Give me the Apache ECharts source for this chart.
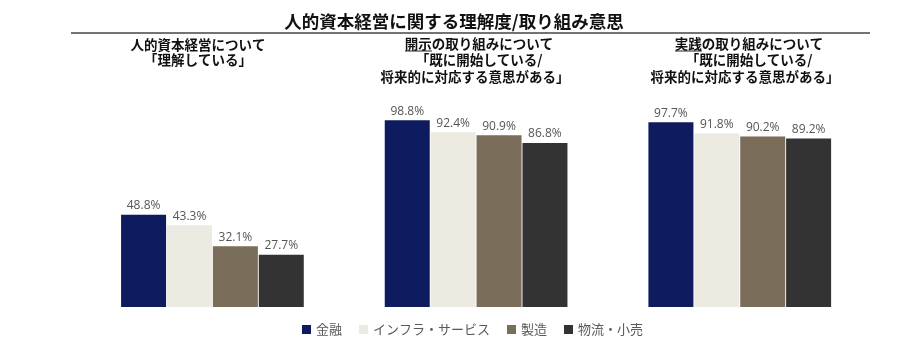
<!DOCTYPE html>
<html>
<head>
<meta charset="utf-8">
<script src="https://cdn.jsdelivr.net/npm/echarts@6/dist/echarts.min.js"></script>
<style>
html,body{margin:0;padding:0;background:#fff;}
#chart{width:900px;height:346px;}
</style>
</head>
<body>
<div id="chart"></div>
<script>
const categories = ['理解', '開示', '実践'];
const seriesNames = ['金融', 'インフラ・サービス', '製造', '物流・小売'];
const finance = [48.8, 98.8, 97.7];
const infra = [43.3, 92.4, 91.8];
const manufacturing = [32.1, 90.9, 90.2];
const logistics = [27.7, 86.8, 89.2];
const colors = ['#0E1B5E', '#EDEAE2', '#7A6D5A', '#333333'];

const JP = '"Noto Sans CJK JP", "Noto Sans", sans-serif';
const seriesData = [finance, infra, manufacturing, logistics];

function txt(text, x, y, size, weight) {
  return {
    type: 'text', x: x, y: y,
    style: { text: text, align: 'center', verticalAlign: 'middle',
      font: (weight || 'bold') + ' ' + size + 'px ' + JP, fill: '#111' }
  };
}
function uline(x1, x2, y) {
  return { type: 'line', shape: { x1: x1, y1: y, x2: x2, y2: y },
    style: { stroke: '#222', lineWidth: 1 } };
}

const chart = echarts.init(document.getElementById('chart'));
chart.setOption({
  animation: false,
  color: colors,
  graphic: [
    txt('人的資本経営に関する理解度/取り組み意思', 454, 21, 17.5),
    { type: 'line', shape: { x1: 71, y1: 33, x2: 870, y2: 33 }, style: { stroke: '#444', lineWidth: 1.5 } },
    txt('人的資本経営について', 198, 45, 13.5),
    txt('「理解している」', 198, 60, 13.5),
    txt('開示の取り組みについて', 479, 44, 13.5),
    txt('「既に開始している/', 479, 60, 13.5),
    txt('将来的に対応する意思がある」', 475, 77, 13.5),
    uline(405, 432, 51),
    txt('実践の取り組みについて', 749, 44, 13.5),
    txt('「既に開始している/', 749, 60, 13.5),
    txt('将来的に対応する意思がある」', 745, 77, 13.5),
    uline(675, 702, 51)
  ],
  legend: {
    data: seriesNames,
    left: 297, top: 318,
    icon: 'rect', itemWidth: 9, itemHeight: 9, itemGap: 17,
    textStyle: { fontFamily: JP, fontSize: 13, color: '#595959' }
  },
  grid: { left: 80.6, width: 791, top: 118, bottom: 39 },
  xAxis: {
    type: 'category', data: categories,
    axisLine: { show: false }, axisTick: { show: false }, axisLabel: { show: false }
  },
  yAxis: {
    type: 'value', min: 0, max: 100, show: false, splitLine: { show: false }
  },
  series: seriesNames.map((name, i) => ({
    name: name, type: 'bar', data: seriesData[i],
    barWidth: 45, barGap: '2%',
    itemStyle: { color: colors[i] },
    label: {
      show: true, position: 'top', distance: 3,
      formatter: p => p.value.toFixed(1) + '%',
      fontFamily: '"Open Sans", sans-serif', fontSize: 12, color: '#555555'
    }
  }))
});
</script>
</body>
</html>
